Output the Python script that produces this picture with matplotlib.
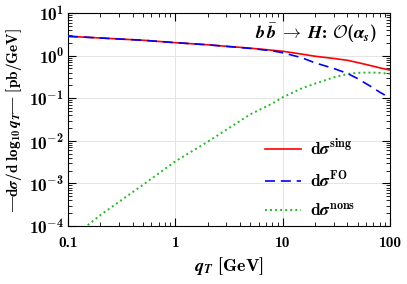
import matplotlib
matplotlib.use("Agg")
import matplotlib.pyplot as plt
from matplotlib.ticker import FixedLocator, LogLocator, NullFormatter

plt.rcParams.update({
    "font.family": "cmb10",
    "mathtext.fontset": "custom",
    "mathtext.rm": "cmb10",
    "mathtext.bf": "cmb10",
    "mathtext.it": "STIXGeneral:italic:bold",
    "mathtext.cal": "cmsy10",
    "axes.unicode_minus": False,
    "font.size": 10,
})

# values
qt = [0.1, 0.2, 0.5, 1, 2, 5, 8, 10, 15, 20, 30, 40, 50, 60, 70, 80, 90, 100]
sing = [2.85, 2.6, 2.3, 2.02, 1.8, 1.5, 1.34, 1.27, 1.09, 0.97, 0.86, 0.78, 0.69, 0.62, 0.565, 0.52, 0.485, 0.46]
fo = [2.85, 2.6, 2.3, 2.02, 1.8, 1.48, 1.3, 1.17, 0.9, 0.68, 0.5, 0.385, 0.29, 0.22, 0.175, 0.14, 0.118, 0.10]
nons = [4.5e-5, 1.8e-4, 9.3e-4, 3.3e-3, 9.5e-3, 0.042, 0.075, 0.105, 0.17, 0.22, 0.31, 0.37,
        0.395, 0.40, 0.40, 0.395, 0.385, 0.375]

xticks = [0.1, 1, 10, 100]
xticklabels = ["0.1", "1", "10", "100"]
yticks = [1e-4, 1e-3, 1e-2, 1e-1, 1, 10]
yticklabels = [r"$10^{-4}$", r"$10^{-3}$", r"$10^{-2}$", r"$10^{-1}$", r"$10^{0}$", r"$10^{1}$"]

fig = plt.figure(figsize=(4.07, 2.84), dpi=100)
ax = fig.add_axes([0.167, 0.204, 0.791, 0.750])

ax.plot(qt, sing, "-", color="#ff0000", lw=1.2, label=r"$\mathrm{d}\sigma^{\mathrm{sing}}$", zorder=3)
ax.plot(qt, fo, "--", color="#0000ff", lw=1.2, dashes=(6, 3.5), label=r"$\mathrm{d}\sigma^{\mathrm{FO}}$", zorder=4)
ax.plot(qt, nons, ":", color="#22bb22", lw=1.4, dashes=(1, 1.6), label=r"$\mathrm{d}\sigma^{\mathrm{nons}}$", zorder=3)

ax.set_xscale("log"); ax.set_yscale("log")
ax.set_xlim(0.1, 100); ax.set_ylim(1e-4, 10)
ax.xaxis.set_major_locator(FixedLocator(xticks)); ax.set_xticklabels(xticklabels)
ax.yaxis.set_major_locator(FixedLocator(yticks)); ax.set_yticklabels(yticklabels)
ax.xaxis.set_minor_locator(LogLocator(base=10, subs=range(2, 10)))
ax.yaxis.set_minor_locator(LogLocator(base=10, subs=range(2, 10)))
ax.xaxis.set_minor_formatter(NullFormatter()); ax.yaxis.set_minor_formatter(NullFormatter())
ax.tick_params(which="both", direction="in", top=True, right=True)
ax.tick_params(axis="x", which="major", labelsize=11, pad=7)
ax.tick_params(axis="y", which="major", labelsize=12.5, pad=3)
ax.tick_params(which="major", length=6, width=0.8)
ax.tick_params(which="minor", length=3, width=0.6)
ax.grid(True, which="major", color="#e4e4e4", lw=0.7)
ax.set_axisbelow(True)

ax.set_xlabel(r"$q_T$ [GeV]", fontsize=13, labelpad=4)
ax.set_ylabel(r"$|\mathrm{d}\sigma/\mathrm{d}\ \log_{10}q_T|$ [pb/GeV]", fontsize=11)
ax.text(0.96, 0.905, r"$b\,\bar{b}\;\rightarrow\;H$: $\mathcal{O}(\alpha_s)$", transform=ax.transAxes,
        ha="right", va="center", fontsize=13)

ax.legend(loc="center left", bbox_to_anchor=(0.585, 0.225), frameon=False, fontsize=12.5,
          handlelength=2.1, handletextpad=0.5, labelspacing=0.7, borderpad=0)

fig.savefig("out.png", dpi=100)
